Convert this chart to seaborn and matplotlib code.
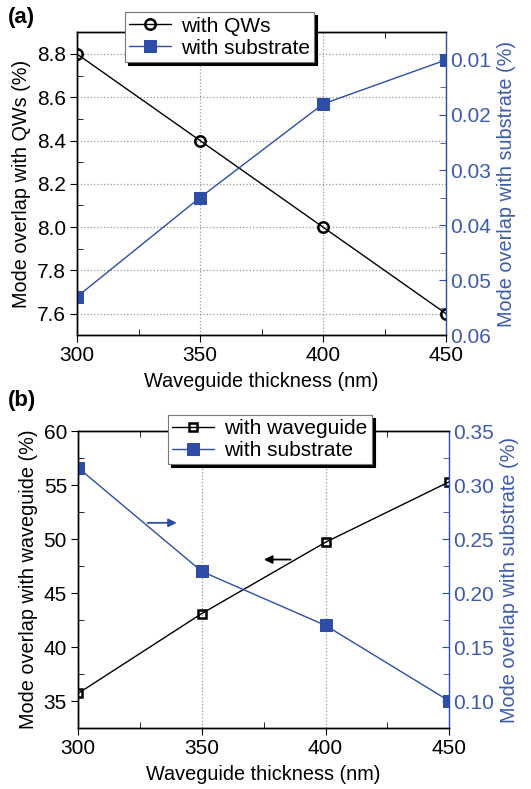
import matplotlib
matplotlib.use("Agg")
import matplotlib.pyplot as plt
from matplotlib.ticker import MultipleLocator, FormatStrFormatter
import pandas as pd
import seaborn as sns

# data
thickness = [300, 350, 400, 450]
qw_overlap = [8.8, 8.4, 8.0, 7.6]
sub_overlap_a = [0.053, 0.035, 0.018, 0.010]
wg_overlap = [35.7, 43.1, 49.7, 55.3]
sub_overlap_b = [0.316, 0.220, 0.170, 0.100]

BLUE = "#2E4DA7"
TXT_BLUE = "#3D5BAA"
FS_TICK = 15
FS_LABEL = 14.3

sns.set_style("ticks")
plt.rcParams['font.family'] = ['Liberation Sans', 'DejaVu Sans']
plt.rcParams['axes.linewidth'] = 1.0
for key in ['text.color', 'axes.labelcolor', 'xtick.color', 'ytick.color',
            'axes.edgecolor']:
    plt.rcParams[key] = 'black'

fig = plt.figure(figsize=(5.31, 7.89), dpi=100)
ax1 = fig.add_axes([0.145, 0.575, 0.695, 0.384])
ax2 = fig.add_axes([0.147, 0.0773, 0.699, 0.3764])

df_a = pd.DataFrame({"t": thickness, "qw": qw_overlap, "sub": sub_overlap_a})
df_b = pd.DataFrame({"t": thickness, "wg": wg_overlap, "sub": sub_overlap_b})


def style_axes(ax, axr, xlabel, ylabel, ylabel_r):
    ax.set_xlim(300, 450)
    ax.xaxis.set_major_locator(MultipleLocator(50))
    ax.xaxis.set_minor_locator(MultipleLocator(25))
    ax.tick_params(axis='both', which='major', direction='out', length=5,
                   labelsize=FS_TICK, top=True, pad=3)
    ax.tick_params(axis='both', which='minor', direction='in', length=4, top=True)
    ax.tick_params(axis='x', which='major', top=False)
    ax.set_xlabel(xlabel, fontsize=FS_LABEL, labelpad=5)
    ax.set_ylabel(ylabel, fontsize=FS_LABEL, labelpad=4)
    axr.set_ylabel(ylabel_r, fontsize=FS_LABEL, color=TXT_BLUE, labelpad=4)
    axr.tick_params(axis='y', which='both', direction='in', colors=BLUE,
                    labelcolor=TXT_BLUE, labelsize=FS_TICK, pad=3)
    axr.tick_params(axis='y', which='major', length=5)
    axr.tick_params(axis='y', which='minor', length=4)
    axr.spines['right'].set_color(BLUE)
    for s in ax.spines.values():
        s.set_visible(True)
        s.set_color('black')
    ax.spines['right'].set_visible(False)


def add_legend(ax, handles, labels, anchor):
    leg = ax.legend(handles, labels, loc='upper left', bbox_to_anchor=anchor,
                    frameon=True, fancybox=False, fontsize=FS_TICK,
                    handlelength=2.0, handletextpad=0.5, borderpad=0.2,
                    labelspacing=0.15, borderaxespad=0,
                    shadow={'color': 'black', 'alpha': 1.0})
    leg.get_frame().set_edgecolor('#777777')
    leg.get_frame().set_linewidth(0.8)
    leg.set_zorder(10)
    return leg


# ---- panel (a)
ax1r = ax1.twinx()
sns.lineplot(data=df_a, x="t", y="qw", ax=ax1, color='black', lw=1.0,
             marker='o', markersize=7.5, markerfacecolor='none',
             markeredgecolor='black', markeredgewidth=1.8,
             label="with QWs", legend=False)
sns.lineplot(data=df_a, x="t", y="sub", ax=ax1r, color=BLUE, lw=1.0,
             marker='s', markersize=8, markeredgecolor=BLUE,
             label="with substrate", legend=False)
ax1.set_ylim(7.5, 8.9)
ax1.yaxis.set_major_locator(MultipleLocator(0.2))
ax1.yaxis.set_minor_locator(MultipleLocator(0.1))
ax1.yaxis.set_major_formatter(FormatStrFormatter('%.1f'))
ax1r.set_ylim(0.06, 0.005)
ax1r.yaxis.set_major_locator(MultipleLocator(0.01))
ax1r.yaxis.set_minor_locator(MultipleLocator(0.005))
ax1r.yaxis.set_major_formatter(FormatStrFormatter('%.2f'))
ax1.grid(True, which='major', axis='both', ls=':', color='#999999', lw=0.9)
style_axes(ax1, ax1r, "Waveguide thickness (nm)",
           "Mode overlap with QWs (%)", "Mode overlap with substrate (%)")
h1 = ax1.get_lines()[0]
h2 = ax1r.get_lines()[0]
add_legend(ax1r, [h1, h2], ["with QWs", "with substrate"], (0.13, 1.066))

# ---- panel (b)
ax2r = ax2.twinx()
sns.lineplot(data=df_b, x="t", y="wg", ax=ax2, color='black', lw=1.0,
             marker='s', markersize=6, markerfacecolor='none',
             markeredgecolor='black', markeredgewidth=1.8,
             label="with waveguide", legend=False)
sns.lineplot(data=df_b, x="t", y="sub", ax=ax2r, color=BLUE, lw=1.0,
             marker='s', markersize=8, markeredgecolor=BLUE,
             label="with substrate", legend=False)
ax2.set_ylim(32.5, 60)
ax2.yaxis.set_major_locator(MultipleLocator(5))
ax2.yaxis.set_minor_locator(MultipleLocator(2.5))
ax2r.set_ylim(0.075, 0.35)
ax2r.yaxis.set_major_locator(MultipleLocator(0.05))
ax2r.yaxis.set_minor_locator(MultipleLocator(0.025))
ax2r.yaxis.set_major_formatter(FormatStrFormatter('%.2f'))
ax2.grid(True, which='major', axis='x', ls=':', color='#999999', lw=0.9)
style_axes(ax2, ax2r, "Waveguide thickness (nm)",
           "Mode overlap with waveguide (%)", "Mode overlap with substrate (%)")
h3 = ax2.get_lines()[0]
h4 = ax2r.get_lines()[0]
add_legend(ax2r, [h3, h4], ["with waveguide", "with substrate"], (0.243, 1.054))

# arrows pointing to the matching axis
ax2.annotate("", xy=(341, 51.5), xytext=(327, 51.5),
             arrowprops=dict(arrowstyle='-|>', color=BLUE, lw=1.3,
                             mutation_scale=12))
ax2.annotate("", xy=(374, 48.1), xytext=(387, 48.1),
             arrowprops=dict(arrowstyle='-|>', color='black', lw=1.3,
                             mutation_scale=12))

fig.text(0.015, 0.978, "(a)", fontsize=16, fontweight='bold', va='center')
fig.text(0.015, 0.492, "(b)", fontsize=16, fontweight='bold', va='center')

fig.savefig("out.png", dpi=100)
